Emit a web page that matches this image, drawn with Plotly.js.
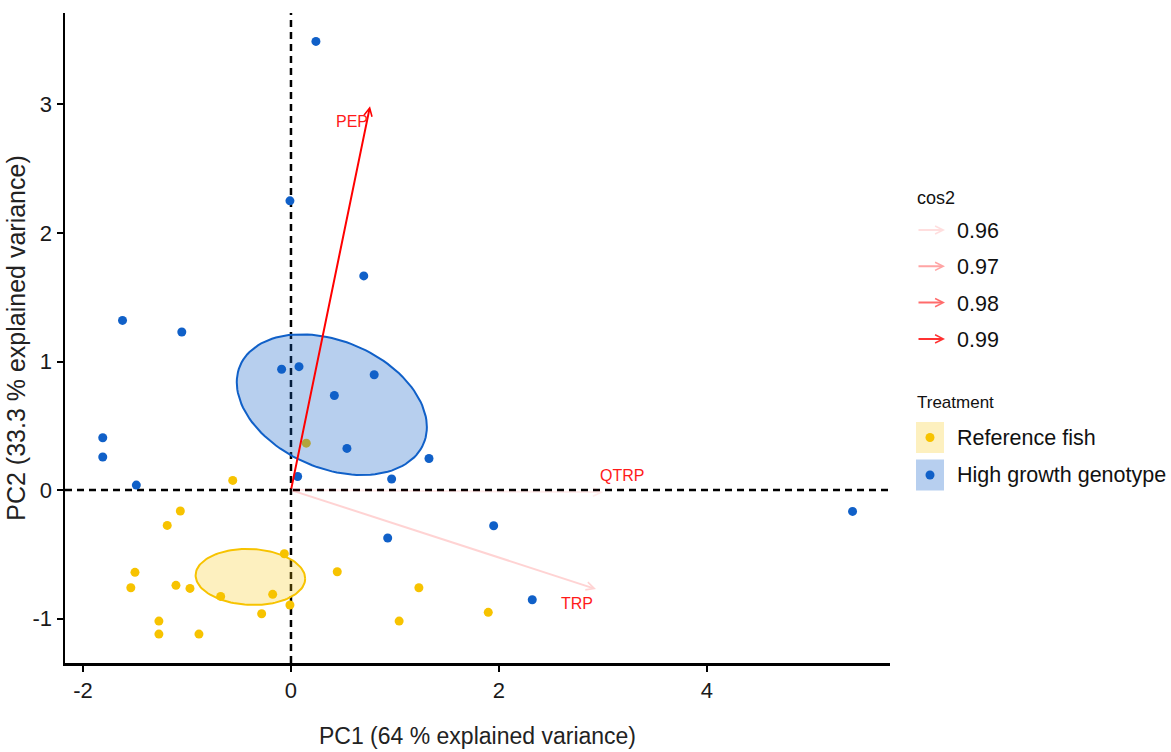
<!DOCTYPE html>
<html><head><meta charset="utf-8">
<script src="https://cdn.plot.ly/plotly-3.0.1.min.js"></script>
<style>html,body{margin:0;padding:0;background:#fff;}#chart{width:1171px;height:752px;}</style>
</head><body><div id="chart"></div>
<script>
// ---------- data ----------
const refX  = [-0.56, -1.064, -1.19, -0.064, -1.50, -1.54, -1.106, -0.971, -0.676, -0.176, -0.01, -0.282, -1.27, -1.27, -0.885, 0.445, 1.23, 1.04, 1.897, 0.147];
const refY  = [0.075, -0.163, -0.275, -0.495, -0.64, -0.76, -0.741, -0.765, -0.827, -0.811, -0.894, -0.962, -1.019, -1.12, -1.12, -0.635, -0.76, -1.019, -0.951, 0.365];
const highX = [0.24, -0.01, 0.70, -1.62, -1.05, -0.09, 0.077, 0.80, 0.417, 0.538, 1.327, 0.968, 0.064, -1.81, -1.81, -1.487, 1.949, 0.93, 2.32, 5.40];
const highY = [3.49, 2.25, 1.666, 1.32, 1.23, 0.94, 0.96, 0.897, 0.736, 0.324, 0.246, 0.086, 0.106, 0.407, 0.257, 0.039, -0.277, -0.373, -0.853, -0.166];
const groupNames = ['Reference fish', 'High growth genotype'];

const varNames = ['PEP', 'QTRP', 'TRP'];
const varX     = [0.76, 3.00, 2.933];
const varY     = [2.986, -0.016, -0.770];
const varCos2  = [0.9987, 0.9545, 0.962];
const cos2Breaks = [0.96, 0.97, 0.98, 0.99];

const xTicks = [-2, 0, 2, 4];
const yTicks = [-1, 0, 1, 2, 3];
const xTitle = 'PC1 (64 % explained variance)';
const yTitle = 'PC2 (33.3 % explained variance)';

// ---------- styles ----------
const FONT = 'Liberation Sans, Arial, sans-serif';
const refColor = '#F7C300';
const highColor = '#1060C8';
const M = {l: 65, r: 281, t: 13, b: 89};
const WIDTH = 1171, HEIGHT = 752;
const PW = WIDTH - M.l - M.r, PH = HEIGHT - M.t - M.b;
const px2x = p => (p - M.l) / PW;
const px2y = p => (HEIGHT - M.b - p) / PH;
const labelShift = [[-18, -15], [19, 17], [-19, -14]];

function hexA(hex, a) {
  const r = parseInt(hex.slice(1,3),16), g = parseInt(hex.slice(3,5),16), b = parseInt(hex.slice(5,7),16);
  return `rgba(${r},${g},${b},${a})`;
}
function blendWhite(hex, a) {
  const c = [1,3,5].map(i => parseInt(hex.slice(i,i+2),16));
  const m = c.map(v => Math.round(a*v + (1-a)*255));
  return `rgb(${m[0]},${m[1]},${m[2]})`;
}
const cLo = Math.min(...varCos2), cHi = Math.max(...varCos2);
function cos2Color(v) {
  const f = Math.max(0.07, Math.min(1, (v - cLo) / (cHi - cLo)));
  return `rgba(255,0,0,${f.toFixed(3)})`;
}

// 95% confidence ellipse of the group mean
function confEllipse(xs, ys, npt) {
  const n = xs.length;
  const mx = xs.reduce((s,v)=>s+v,0)/n, my = ys.reduce((s,v)=>s+v,0)/n;
  let sxx=0, syy=0, sxy=0;
  for (let i=0;i<n;i++){ const dx=xs[i]-mx, dy=ys[i]-my; sxx+=dx*dx; syy+=dy*dy; sxy+=dx*dy; }
  const k = 5.991464547 / n / (n-1);
  const a = sxx*k, b = sxy*k, d = syy*k;
  const l11 = Math.sqrt(a), l21 = b/l11, l22 = Math.sqrt(d - l21*l21);
  const ex = [], ey = [];
  for (let i=0;i<=npt;i++){ const t = 2*Math.PI*i/npt; ex.push(mx + l11*Math.cos(t)); ey.push(my + l21*Math.cos(t) + l22*Math.sin(t)); }
  return {ex, ey};
}

const eRef = confEllipse(refX, refY, 120);
const eHigh = confEllipse(highX, highY, 120);

const traces = [
  {x: refX, y: refY, type:'scatter', mode:'markers', marker:{size:9, color:refColor}, name:groupNames[0], showlegend:false, hoverinfo:'x+y'},
  {x: eRef.ex, y: eRef.ey, type:'scatter', mode:'lines', fill:'toself', fillcolor:hexA(refColor,0.25), line:{color:refColor, width:2}, showlegend:false, hoverinfo:'skip'},
  {x: eHigh.ex, y: eHigh.ey, type:'scatter', mode:'lines', fill:'toself', fillcolor:hexA(highColor,0.3), line:{color:highColor, width:2}, showlegend:false, hoverinfo:'skip'},
  {x: highX, y: highY, type:'scatter', mode:'markers', marker:{size:9, color:highColor}, name:groupNames[1], showlegend:false, hoverinfo:'x+y'}
];

const shapes = [
  {type:'line', xref:'x', yref:'paper', x0:0, x1:0, y0:0, y1:1, line:{color:'black', width:2.5, dash:'7px,5px'}, layer:'below'},
  {type:'line', xref:'paper', yref:'y', x0:0, x1:1, y0:0, y1:0, line:{color:'black', width:2.5, dash:'7px,5px'}, layer:'below'}
];
const annotations = [];

// variable arrows + labels
varNames.forEach((nm, i) => {
  const col = cos2Color(varCos2[i]);
  annotations.push({x: varX[i], y: varY[i], ax: 0, ay: 0, xref:'x', yref:'y', axref:'x', ayref:'y',
    text:'', showarrow:true, arrowhead:5, arrowsize:0.8, arrowwidth:2, arrowcolor:col, standoff:0, startstandoff:0});
  annotations.push({x: varX[i], y: varY[i], xref:'x', yref:'y', text: nm, showarrow:false,
    xshift: labelShift[i][0], yshift: labelShift[i][1], font:{family:FONT, size:16, color:'#FF1A1A'}});
});

// legend: cos2
const legX = 915, keyR = 945, txtX = 955;
annotations.push({x: px2x(legX), y: px2y(198), xref:'paper', yref:'paper', xanchor:'left', yanchor:'middle', text:'cos2', showarrow:false, font:{family:FONT, size:18, color:'#111'}});
cos2Breaks.forEach((v, i) => {
  const yy = 230 + i*36.3;
  annotations.push({x: px2x(keyR), y: px2y(yy), xref:'paper', yref:'paper', ax:-28, ay:0, text:'', showarrow:true,
    arrowhead:5, arrowsize:0.8, arrowwidth:2, arrowcolor: cos2Color(v), standoff:0, startstandoff:0});
  annotations.push({x: px2x(txtX), y: px2y(yy+1), xref:'paper', yref:'paper', xanchor:'left', yanchor:'middle', text: v.toFixed(2), showarrow:false, font:{family:FONT, size:21.5, color:'#111'}});
});

// legend: Treatment
annotations.push({x: px2x(legX), y: px2y(402), xref:'paper', yref:'paper', xanchor:'left', yanchor:'middle', text:'Treatment', showarrow:false, font:{family:FONT, size:17, color:'#111'}});
const gCols = [refColor, highColor], gAlpha = [0.25, 0.3];
groupNames.forEach((g, i) => {
  const y0 = 422 + i*37.5, y1 = y0 + 31;
  shapes.push({type:'rect', xref:'paper', yref:'paper', x0: px2x(916), x1: px2x(944), y0: px2y(y1), y1: px2y(y0), fillcolor: blendWhite(gCols[i], gAlpha[i]), line:{width:0}, layer:'above'});
  shapes.push({type:'circle', xref:'paper', yref:'paper', xsizemode:'pixel', ysizemode:'pixel', xanchor: px2x(930), yanchor: px2y((y0+y1)/2), x0:-4.5, x1:4.5, y0:-4.5, y1:4.5, fillcolor: gCols[i], line:{width:0}, layer:'above'});
  annotations.push({x: px2x(txtX), y: px2y((y0+y1)/2), xref:'paper', yref:'paper', xanchor:'left', yanchor:'middle', text: g, showarrow:false, font:{family:FONT, size:21.5, color:'#111'}});
});

const layout = {
  width: WIDTH, height: HEIGHT, margin: M,
  paper_bgcolor:'white', plot_bgcolor:'white', showlegend:false,
  font:{family:FONT, color:'#222'},
  xaxis: {range:[-2.173, 5.76], tickvals:xTicks, ticktext:xTicks.map(String), showgrid:false, zeroline:false,
    showline:true, linecolor:'black', linewidth:2.5, ticks:'outside', ticklen:6, tickwidth:2, tickcolor:'black',
    tickfont:{family:FONT, size:22, color:'#1a1a1a'},
    title:{text:xTitle, font:{family:FONT, size:23, color:'#222'}, standoff:26}, automargin:false},
  yaxis: {range:[-1.345, 3.711], tickvals:yTicks, ticktext:yTicks.map(String), showgrid:false, zeroline:false,
    showline:true, linecolor:'black', linewidth:2.5, ticks:'outside', ticklen:6, tickwidth:2, tickcolor:'black',
    tickfont:{family:FONT, size:22, color:'#1a1a1a'},
    title:{text:yTitle, font:{family:FONT, size:25, color:'#222'}, standoff:0}, automargin:false},
  shapes: shapes, annotations: annotations
};

Plotly.newPlot('chart', traces, layout, {displayModeBar:false, staticPlot:true});
</script></body></html>
